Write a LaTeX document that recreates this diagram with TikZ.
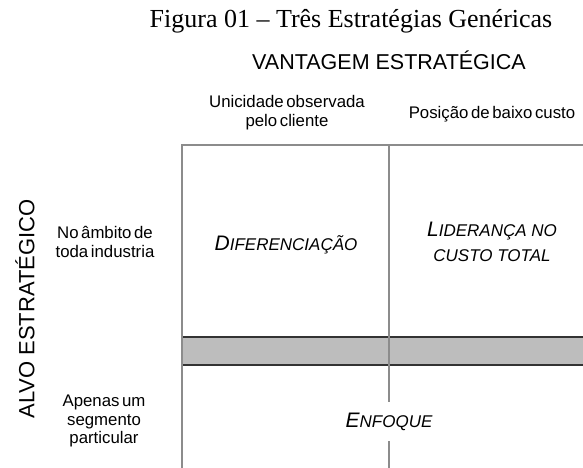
\documentclass[tikz,border=0pt]{standalone}
\usepackage{fontspec}
\setmainfont{Liberation Serif}
\setsansfont{Liberation Sans}
\newfontfamily\lblfont[WordSpace=0.55]{Liberation Sans}
\begin{document}
\begin{tikzpicture}[x=1pt,y=-1pt,
  lbl/.style={font=\lblfont\fontsize{16.8}{19}\selectfont, inner sep=0pt, anchor=base},
  bigcaps/.style={font=\sffamily\fontsize{21.5}{24}\selectfont, inner sep=0pt, anchor=base},
  strat/.style={font=\sffamily\itshape\fontsize{17}{20}\selectfont, inner sep=0pt, anchor=base},
  framel/.style={draw=black!45, line width=2pt},
  bar/.style={fill=black!26, draw=none},
  barline/.style={draw=black!80, line width=1.2pt}]
\useasboundingbox (0,0) rectangle (583,468);
% title
\node[font=\fontsize{26}{28}\selectfont, inner sep=0pt, anchor=base] (title) at (351,28) {Figura 01 – Três Estratégias Genéricas};
\node[bigcaps] (vant) at (389,70) {VANTAGEM ESTRATÉGICA};
\node[bigcaps, font=\sffamily\fontsize{22}{24}\selectfont, rotate=90, anchor=center] (alvo) at (25,309) {ALVO ESTRATÉGICO};
% column headers
\node[lbl] (uni1) at (287,108) {Unicidade observada};
\node[lbl] (uni2) at (287,127) {pelo cliente};
\node[lbl] (pos) at (492,118) {Posição de baixo custo};
% row headers
\node[lbl] (no1) at (105,238) {No âmbito de};
\node[lbl] (no2) at (105,257) {toda industria};
\node[lbl] (ap1) at (104,406) {Apenas um};
\node[lbl] (ap2) at (104,425) {segmento};
\node[lbl] (ap3) at (104,443) {particular};
% frame
\coordinate (tl) at (182,145);
\coordinate (tr) at (583,145);
\coordinate (bl) at (182,468);
\coordinate (tm) at (389,145);
\coordinate (bm) at (389,468);
\fill[bar] (182,337) rectangle (583,365);
\draw[barline] (182,337) -- (583,337);
\draw[barline] (182,365) -- (583,365);
\draw[framel] (bl) -- (tl) -- (tr);
\draw[framel] (tm) -- (bm);
% strategies
\node[strat] (dif) at (286,250) {{\fontsize{21}{24}\selectfont D}IFERENCIAÇÃO};
\node[strat] (lid) at (492,236) {{\fontsize{21}{24}\selectfont L}IDERANÇA NO};
\node[strat] (cus) at (492,261) {CUSTO TOTAL};
\node[strat, fill=white, inner xsep=2pt, inner ysep=11pt] (enf) at (389,427) {{\fontsize{21}{24}\selectfont E}NFOQUE};
\end{tikzpicture}
\end{document}
